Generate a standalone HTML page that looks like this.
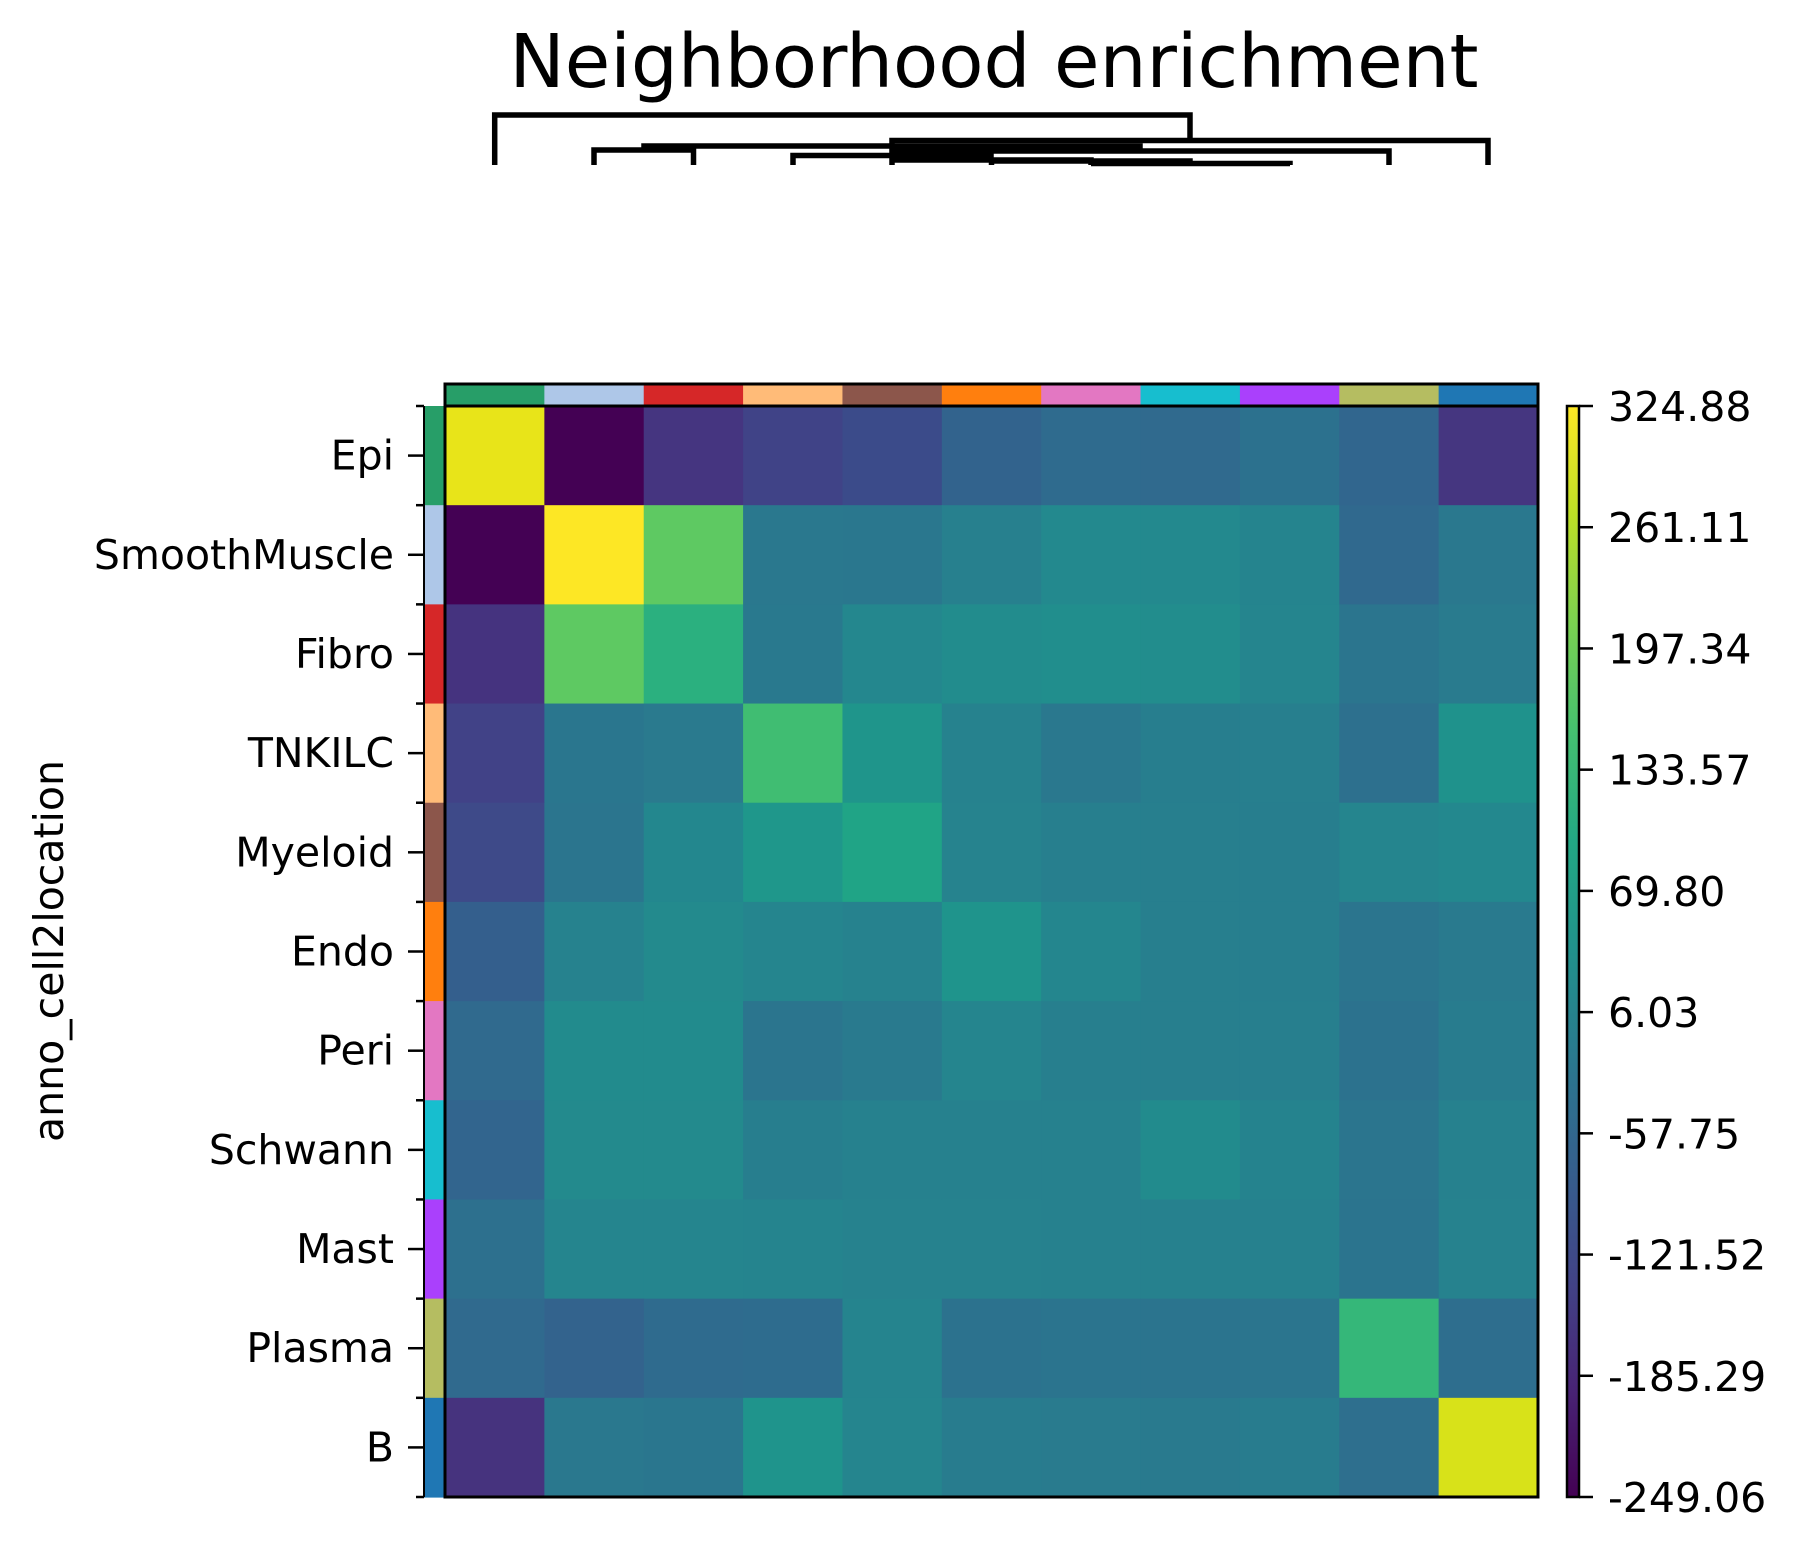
<!DOCTYPE html>
<html><head><meta charset="utf-8"><style>
html,body{margin:0;padding:0;background:#fff;}
svg{display:block;}
text{font-family:"DejaVu Sans","Liberation Sans",sans-serif;fill:#000;}
</style></head><body>
<svg width="1797" height="1553" viewBox="0 0 1797 1553" xmlns="http://www.w3.org/2000/svg">
<defs>
<linearGradient id="vir" x1="0" y1="1" x2="0" y2="0">
<stop offset="0" stop-color="#440154"/><stop offset="0.1" stop-color="#482475"/>
<stop offset="0.2" stop-color="#414487"/><stop offset="0.3" stop-color="#355f8d"/>
<stop offset="0.4" stop-color="#2a788e"/><stop offset="0.5" stop-color="#21918c"/>
<stop offset="0.6" stop-color="#22a884"/><stop offset="0.7" stop-color="#44bf70"/>
<stop offset="0.8" stop-color="#7ad151"/><stop offset="0.9" stop-color="#bddf26"/>
<stop offset="1" stop-color="#fde725"/>
</linearGradient>
</defs>
<text x="994" y="87" font-size="74" text-anchor="middle">Neighborhood enrichment</text>
<g fill="none" stroke="#000" stroke-width="5.5" stroke-linejoin="miter">
<path d="M1091 165 V163.5 H1290 V165"/>
<path d="M991.5 165 V161 H1190 V163.5"/>
<path d="M892 165 V160 H1091 V161"/>
<path d="M793 165 V155.5 H991 V160"/>
<path d="M892 155.5 V151 H1389 V165"/>
<path d="M594 165 V150 H693.5 V165"/>
<path d="M644 150 V146 H1140 V151"/>
<path d="M892 146 V140.5 H1488 V165"/>
<path d="M494.7 165 V115 H1190 V140.5"/>
</g>
<g id="hm"></g>
<g id="top"></g>
<g id="left"></g>
<rect x="1567" y="406" width="12" height="1091" fill="url(#vir)" stroke="#000" stroke-width="2.5"/>
<rect x="445" y="406" width="1093" height="1091" fill="none" stroke="#000" stroke-width="3"/>
<rect x="445" y="384" width="1093" height="22" fill="none" stroke="#000" stroke-width="3"/>
<text x="52" y="951" font-size="41" text-anchor="middle" transform="rotate(-90 52 951)" dominant-baseline="middle">anno_cell2location</text>
<script>
const ns="http://www.w3.org/2000/svg";
function el(t,a,p){const e=document.createElementNS(ns,t);for(const k in a)e.setAttribute(k,a[k]);(p||document.querySelector('svg')).appendChild(e);return e;}
const C=[
["#e8e419","#440154","#453580","#404387","#3b4b8a","#32638d","#2f6b8e","#306a8e","#2c718e","#31668e","#453680"],
["#440154","#fde725","#5ec962","#2a788e","#2a778e","#27808e","#23898e","#23898e","#25848e","#30698e","#2a788e"],
["#45337f","#5ec962","#2bb07f","#29798e","#24878e","#228c8d","#218e8d","#228d8d","#25858e","#2b758e","#297b8e"],
["#414287","#2a768e","#2a7a8e","#40bd72","#1f958b","#26828e","#2a788e","#277e8e","#277f8e","#2d708e","#1f928c"],
["#3e4a89","#2b758e","#23878e","#1f978b","#20a486","#26838e","#277f8e","#277f8e","#277e8e","#25858e","#23888e"],
["#345f8d","#26828e","#238a8d","#25858e","#26828e","#1f948c","#24868e","#277f8e","#277e8e","#2b758e","#297a8e"],
["#306a8e","#228b8d","#228b8d","#2b758e","#297a8e","#25858e","#277f8e","#277f8e","#277f8e","#2c728e","#287c8e"],
["#32658e","#238a8d","#238a8d","#277e8e","#26818e","#26818e","#26818e","#228b8d","#25838e","#2b758e","#26818e"],
["#2d708e","#25858e","#25858e","#25848e","#26828e","#26828e","#26818e","#26818e","#26818e","#2b748e","#26828e"],
["#306a8e","#33638d","#2f6b8e","#2e6c8e","#25848e","#2c728e","#2b748e","#2b748e","#2b758e","#35b779","#2e6e8e"],
["#46337e","#2a788e","#2a768e","#1f948c","#25858e","#287c8e","#297b8e","#297a8e","#287c8e","#2e6f8e","#d8e219"]];
const K=["#279e68","#aec7e8","#d62728","#ffbb78","#8c564b","#ff7f0e","#e377c2","#17becf","#aa40fc","#b5bd61","#1f77b4"];
const N=["Epi","SmoothMuscle","Fibro","TNKILC","Myeloid","Endo","Peri","Schwann","Mast","Plasma","B"];
const x0=445,y0=406,cw=1093/11,ch=1091/11;
const hm=document.getElementById('hm');
for(let r=0;r<11;r++){for(let c=0;c<11;c++){el('rect',{x:x0+c*cw,y:y0+r*ch,width:cw+0.6,height:ch+0.6,fill:C[r][c]},hm);}
 el('rect',{x:x0+r*cw,y:384,width:cw+0.6,height:22,fill:K[r]},document.getElementById('top'));
 el('rect',{x:424,y:y0+r*ch,width:21,height:ch+0.6,fill:K[r]},document.getElementById('left'));
 const yc=y0+(r+0.5)*ch;
 el('line',{x1:408,x2:424,y1:yc,y2:yc,stroke:"#000","stroke-width":2.5});
 const t=el('text',{x:394,y:yc+14,"font-size":41,"text-anchor":"end"});t.textContent=N[r];
}
for(let r=0;r<=11;r++){const y=y0+r*ch;el('line',{x1:416,x2:424,y1:y,y2:y,stroke:"#000","stroke-width":2.5});}
el('line',{x1:424,x2:424,y1:y0,y2:y0+1091,stroke:"#000","stroke-width":2});
const L=["324.88","261.11","197.34","133.57","69.80","6.03","-57.75","-121.52","-185.29","-249.06"];
for(let i=0;i<10;i++){const y=406+i*1091/9;el('line',{x1:1579,x2:1593,y1:y,y2:y,stroke:"#000","stroke-width":2.5});
 const t=el('text',{x:1608,y:y+15,"font-size":41});t.textContent=L[i];}
</script>
</svg>
</body></html>
